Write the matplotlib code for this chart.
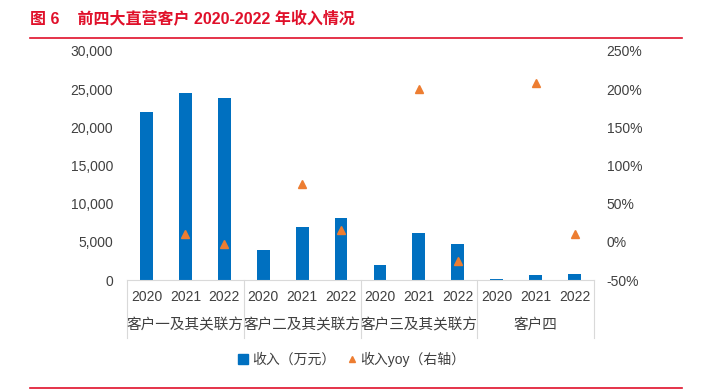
import numpy as np
import matplotlib
matplotlib.use("Agg")
import matplotlib.pyplot as plt
import matplotlib.transforms as mtransforms
from matplotlib.ticker import FuncFormatter
from matplotlib.lines import Line2D
from matplotlib.patches import Patch

plt.rcParams['font.family'] = ['Liberation Sans', 'Noto Sans CJK SC']

years = ['2020', '2021', '2022'] * 4
customers = ['客户一及其关联方', '客户二及其关联方', '客户三及其关联方', '客户四']
revenue = [21970, 24460, 23880, 3890, 6940, 8080, 1970, 6200, 4670, 150, 650, 790]
yoy = [np.nan, 10, -3, np.nan, 76, 15, np.nan, 200, -25, np.nan, 208, 10]

BLUE = '#0070C0'
ORANGE = '#ED7D31'
RED = '#E0102A'
TXT = '#404040'
GRID = '#D9D9D9'

fig = plt.figure(figsize=(7.01, 3.92), dpi=100)
ax = fig.add_axes([127 / 701, 1 - 280 / 392, (594 - 127) / 701, 229 / 392])
ax2 = ax.twinx()

x = np.arange(len(revenue))
ax.bar(x, revenue, width=0.33, color=BLUE, zorder=2)
ax2.plot(x, np.array(yoy) / 100, linestyle='none', marker='^', markersize=6,
         color=ORANGE, zorder=3)

ax.set_xlim(-0.5, len(revenue) - 0.5)
ax.set_ylim(0, 30000)
ax.set_yticks(range(0, 30001, 5000))
ax.yaxis.set_major_formatter(FuncFormatter(lambda v, p: f'{int(v):,}'))
ax2.set_ylim(-0.5, 2.5)
ax2.set_yticks(np.arange(-0.5, 2.51, 0.5))
ax2.yaxis.set_major_formatter(FuncFormatter(lambda v, p: f'{v * 100:.0f}%'))

ax.set_xticks(x)
ax.set_xticklabels(years, fontsize=10, color=TXT)
ax.tick_params(axis='x', length=0, pad=7)
ax.tick_params(axis='y', length=0, labelsize=10, labelcolor=TXT, pad=10)
ax2.tick_params(axis='y', length=0, labelsize=10, labelcolor=TXT, pad=9)

for a in (ax, ax2):
    for s in ['top', 'left', 'right']:
        a.spines[s].set_visible(False)
    a.spines['bottom'].set_color(GRID)
ax2.spines['bottom'].set_visible(False)

trans = mtransforms.blended_transform_factory(ax.transData, ax.transAxes)
for sep in [-0.5, 2.5, 5.5, 8.5, 11.5]:
    ax.plot([sep, sep], [0, -0.253], transform=trans, color=GRID, lw=0.8,
            clip_on=False)
for i, name in enumerate(customers):
    ax.text(i * 3 + 1, -0.197, name, transform=trans, ha='center', va='center',
            fontsize=10.5, color=TXT)

handles = [Patch(color=BLUE, label='收入（万元）'),
           Line2D([], [], linestyle='none', marker='^', markersize=5,
                  color=ORANGE, label='收入yoy（右轴）')]
fig.legend(handles=handles, loc='center', bbox_to_anchor=(352 / 701, 1 - 359 / 392),
           ncol=2, frameon=False, fontsize=10, labelcolor=TXT,
           handlelength=0.7, handleheight=0.7, handletextpad=0.3,
           columnspacing=0.8)

fig.text(30 / 701, 1 - 19 / 392, '图 6    前四大直营客户 2020-2022 年收入情况',
         fontsize=11.5, fontweight='bold', color=RED, va='center', ha='left')
fig.add_artist(Line2D([30 / 701, 682 / 701], [1 - 38 / 392, 1 - 38 / 392],
                      color=RED, lw=1.2))
fig.add_artist(Line2D([30 / 701, 682 / 701], [1 - 388 / 392, 1 - 388 / 392],
                      color=RED, lw=1.2))

fig.savefig('out.png', dpi=100)
